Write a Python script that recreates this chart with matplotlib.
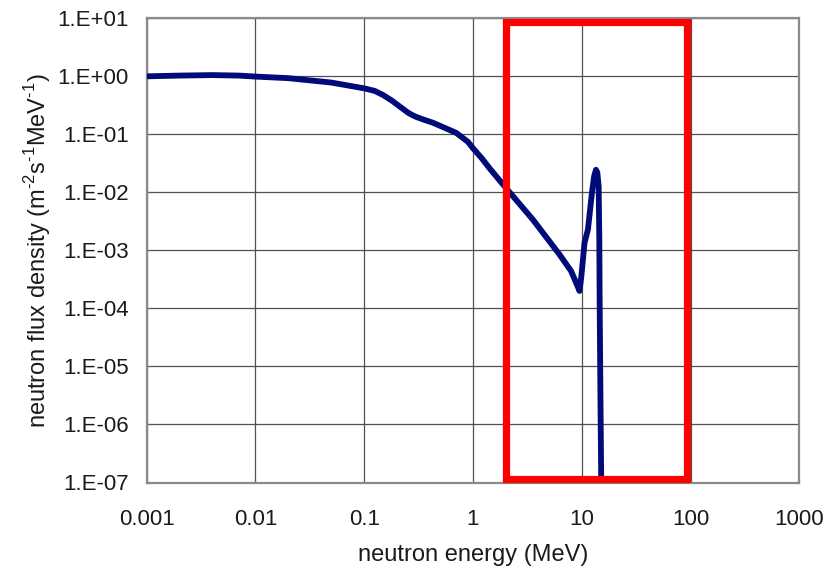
import matplotlib
matplotlib.use("Agg")
import matplotlib.pyplot as plt
from matplotlib.patches import Rectangle
from matplotlib.ticker import FixedLocator, FixedFormatter

plt.rcParams['font.family'] = ['Liberation Sans', 'DejaVu Sans']
plt.rcParams['mathtext.fontset'] = 'custom'
plt.rcParams['mathtext.rm'] = 'Liberation Sans'
plt.rcParams['axes.unicode_minus'] = False

# neutron energy (MeV)
energy = [0.001, 0.002, 0.004, 0.007, 0.01, 0.02, 0.05, 0.1, 0.125, 0.149,
          0.18, 0.213, 0.25, 0.27, 0.30, 0.35, 0.43, 0.61, 0.7, 0.78,
          0.9, 1.0, 1.2, 1.42, 1.98, 3.55, 6.24, 7.98, 9.0, 9.53,
          9.9, 10.6, 11.4, 12.4, 13.0, 13.5, 13.9, 14.3, 14.5, 14.6,
          14.85, 15.1, 15.2]
# neutron flux density (m^-2 s^-1 MeV^-1)
flux = [1.0, 1.03, 1.05, 1.03, 0.99, 0.93, 0.78, 0.62, 0.56, 0.476,
        0.38, 0.30, 0.24, 0.22, 0.20, 0.18, 0.158, 0.119, 0.106, 0.091,
        0.074, 0.0575, 0.039, 0.026, 0.0123, 0.0034, 0.00085, 0.00044, 0.00026, 0.0002,
        0.00035, 0.00135, 0.0023, 0.0098, 0.019, 0.0245, 0.022, 0.0126, 0.0015, 0.00014,
        3e-6, 1e-7, 1e-8]

xticks = [0.001, 0.01, 0.1, 1, 10, 100, 1000]
xticklabels = ['0.001', '0.01', '0.1', '1', '10', '100', '1000']
yticks = [1e1, 1e0, 1e-1, 1e-2, 1e-3, 1e-4, 1e-5, 1e-6, 1e-7]
yticklabels = ['1.E+01', '1.E+00', '1.E-01', '1.E-02', '1.E-03', '1.E-04',
               '1.E-05', '1.E-06', '1.E-07']

# highlighted region (energy range, flux range)
box_x = [2.0, 92.0]
box_y = [1.13e-7, 8.6]

fig = plt.figure(figsize=(8.28, 5.67), dpi=100)
ax = fig.add_axes([146.7 / 828, 1 - 482.5 / 567, 652.6 / 828, 464.2 / 567])
ax.set_xscale('log')
ax.set_yscale('log')
ax.set_xlim(1e-3, 1e3)
ax.set_ylim(1e-7, 1e1)

ax.xaxis.set_major_locator(FixedLocator(xticks))
ax.xaxis.set_major_formatter(FixedFormatter(xticklabels))
ax.yaxis.set_major_locator(FixedLocator(yticks))
ax.yaxis.set_major_formatter(FixedFormatter(yticklabels))
ax.minorticks_off()

ax.grid(True, which='major', color='#505050', linewidth=0.9)
ax.set_axisbelow(True)
for s in ax.spines.values():
    s.set_color('#8a8a8a')
    s.set_linewidth(1.6)

ax.tick_params(axis='both', which='major', direction='in', length=3,
               color='#606060', labelsize=16, labelcolor='#1a1a1a')
ax.tick_params(axis='x', pad=19)
ax.tick_params(axis='y', pad=13)

ax.plot(energy, flux, color='#000a78', linewidth=4.2, solid_joinstyle='round',
        solid_capstyle='butt', zorder=3)

rect = Rectangle((box_x[0], box_y[0]), box_x[1] - box_x[0], box_y[1] - box_y[0],
                 fill=False, edgecolor='#ff0000', linewidth=5.2, zorder=4,
                 clip_on=False, joinstyle='miter')
ax.add_patch(rect)

ax.set_xlabel('neutron energy (MeV)', fontsize=17, color='#1a1a1a', labelpad=10)
ax.set_ylabel(r'neutron flux density (m$^{\text{-2}}$s$^{\text{-1}}$MeV$^{\text{-1}}$)',
              fontsize=17, color='#1a1a1a', labelpad=3)

fig.savefig('out.png', dpi=100)
